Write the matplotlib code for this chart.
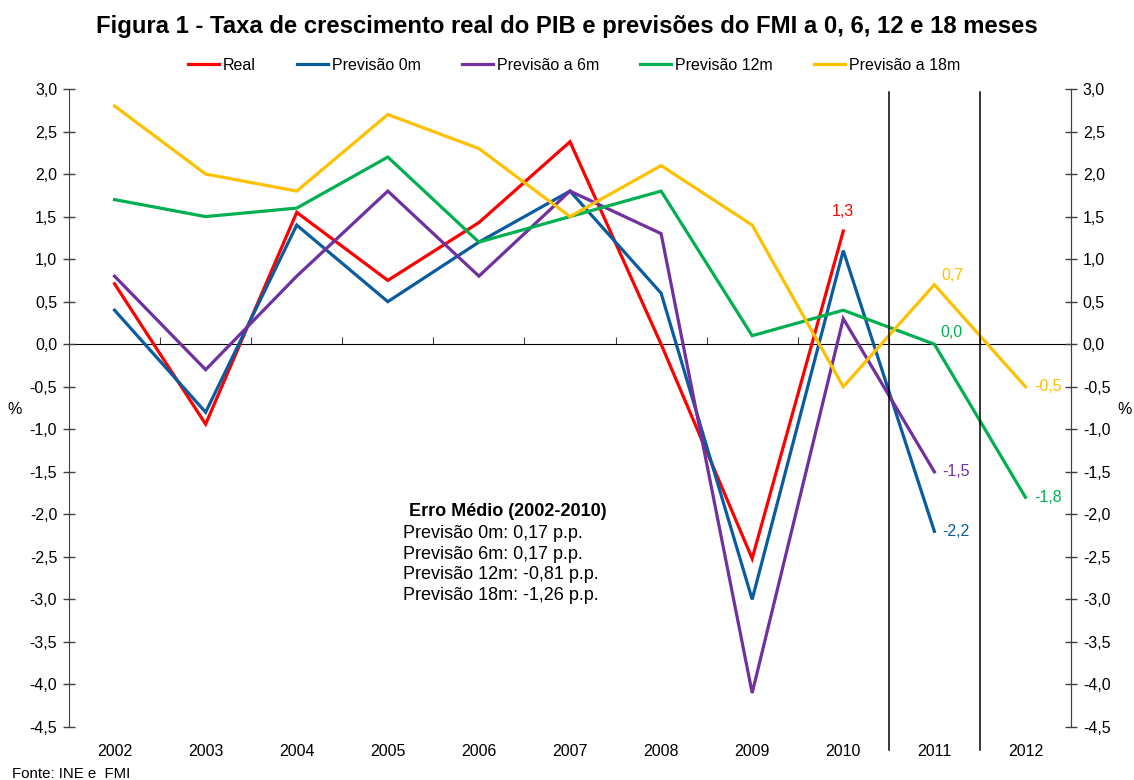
import matplotlib
matplotlib.use('Agg')
import matplotlib.pyplot as plt
import numpy as np

plt.rcParams['font.family'] = ['Liberation Sans', 'DejaVu Sans']

# data
years = ['2002', '2003', '2004', '2005', '2006', '2007', '2008', '2009', '2010', '2011', '2012']
real = [0.71, -0.94, 1.55, 0.75, 1.43, 2.38, 0.0, -2.52, 1.33]
prev_0m = [0.4, -0.8, 1.4, 0.5, 1.2, 1.8, 0.6, -3.0, 1.1, -2.2]
prev_6m = [0.8, -0.3, 0.8, 1.8, 0.8, 1.8, 1.3, -4.1, 0.3, -1.5]
prev_12m = [1.7, 1.5, 1.6, 2.2, 1.2, 1.5, 1.8, 0.1, 0.4, 0.0, -1.8]
prev_18m = [2.8, 2.0, 1.8, 2.7, 2.3, 1.5, 2.1, 1.4, -0.5, 0.7, -0.5]

series = [
    ('Real', real, '#FF0000'),
    ('Previsão 0m', prev_0m, '#0A5CA0'),
    ('Previsão a 6m', prev_6m, '#7030A0'),
    ('Previsão 12m', prev_12m, '#00B050'),
    ('Previsão a 18m', prev_18m, '#FFC000'),
]

# end-point labels: (series index, point index, text, offset in points, ha)
end_labels = [
    (0, 8, '1,3', (0, 9), 'center'),
    (1, 9, '-2,2', (6, 0), 'left'),
    (2, 9, '-1,5', (6, 0), 'left'),
    (3, 9, '0,0', (4, 3), 'left'),
    (4, 9, '0,7', (5, 1), 'left'),
    (3, 10, '-1,8', (6, 0), 'left'),
    (4, 10, '-0,5', (6, 0), 'left'),
]

erro_titulo = 'Erro Médio (2002-2010)'
erro_linhas = ['Previsão 0m: 0,17 p.p.', 'Previsão 6m: 0,17 p.p.',
               'Previsão 12m: -0,81 p.p.', 'Previsão 18m: -1,26 p.p.']

axis_col = '#404040'
W, H = 1134, 780
fs = 11.5

fig = plt.figure(figsize=(W / 100, H / 100), dpi=100)
ax = fig.add_axes([69 / W, 1 - 727 / H, (1071 - 69) / W, (727 - 89) / H])

x = np.arange(len(years))
for name, vals, col in series:
    ax.plot(x[:len(vals)], vals, color=col, lw=2.3, label=name, solid_joinstyle='miter')

for si, pi, txt, off, ha in end_labels:
    col = series[si][2]
    ax.annotate(txt, (x[pi], series[si][1][pi]), xytext=off, textcoords='offset points',
                ha=ha, va='center' if off[1] == 0 else 'bottom', color=col, fontsize=fs)

ax.set_xlim(-0.5, len(years) - 0.5)
ax.set_ylim(-4.5, 3.0)
yt = np.arange(-4.5, 3.01, 0.5)
ylabels = [('%.1f' % v).replace('.', ',') for v in yt]
ax.set_yticks(yt)
ax.set_yticklabels(ylabels)
ax.tick_params(axis='y', direction='inout', length=9, width=1, color=axis_col,
               labelsize=fs, pad=4)
ax.set_xticks(x)
ax.set_xticklabels(years)
ax.tick_params(axis='x', length=0, labelsize=fs, pad=12)

for s in ['top', 'bottom']:
    ax.spines[s].set_visible(False)
for s in ['left', 'right']:
    ax.spines[s].set_color(axis_col)

# right-hand value axis, same scale
rax = ax.twinx()
rax.set_ylim(ax.get_ylim())
rax.set_yticks(yt)
rax.set_yticklabels(ylabels)
rax.tick_params(axis='y', direction='inout', length=9, width=1, color=axis_col,
                labelsize=fs, pad=4)
for s in ['top', 'bottom', 'left']:
    rax.spines[s].set_visible(False)
rax.spines['right'].set_color(axis_col)

# category axis crossing at zero
zero_ax = ax.secondary_xaxis(4.5 / 7.5)
zero_ax.set_xticks(x[:-1] + 0.5)
zero_ax.tick_params(axis='x', direction='out', length=5, color=axis_col, labelbottom=False, labeltop=False)
zero_ax.spines['bottom'].set_color(axis_col)

for xv in [8.5, 9.5]:
    ax.axvline(xv, ymin=-0.036, ymax=0.995, color='black', lw=1.1, clip_on=False)

fig.text(15 / W, 1 - 409 / H, '%', ha='center', va='center', fontsize=fs)
fig.text(1125 / W, 1 - 409 / H, '%', ha='center', va='center', fontsize=fs)

fig.text(567 / W, 1 - 26 / H, 'Figura 1 - Taxa de crescimento real do PIB e previsões do FMI a 0, 6, 12 e 18 meses',
         ha='center', va='center', fontsize=17.2, fontweight='bold')

ax.legend(loc='center', bbox_to_anchor=(574 / W, 1 - 65 / H), bbox_transform=fig.transFigure,
          ncol=5, frameon=False, fontsize=fs, handlelength=1.95, handletextpad=0.25,
          columnspacing=2.57, borderpad=0)

fig.text(508 / W, 1 - 512 / H, erro_titulo, ha='center', va='center', fontsize=13, fontweight='bold')
fig.text(403 / W, 1 - 525 / H, '\n'.join(erro_linhas), ha='left', va='top', fontsize=13, linespacing=1.28)

fig.text(12 / W, 1 - 774 / H, 'Fonte: INE e  FMI', ha='left', va='center', fontsize=10.8)

fig.savefig('out.png', dpi=100)
